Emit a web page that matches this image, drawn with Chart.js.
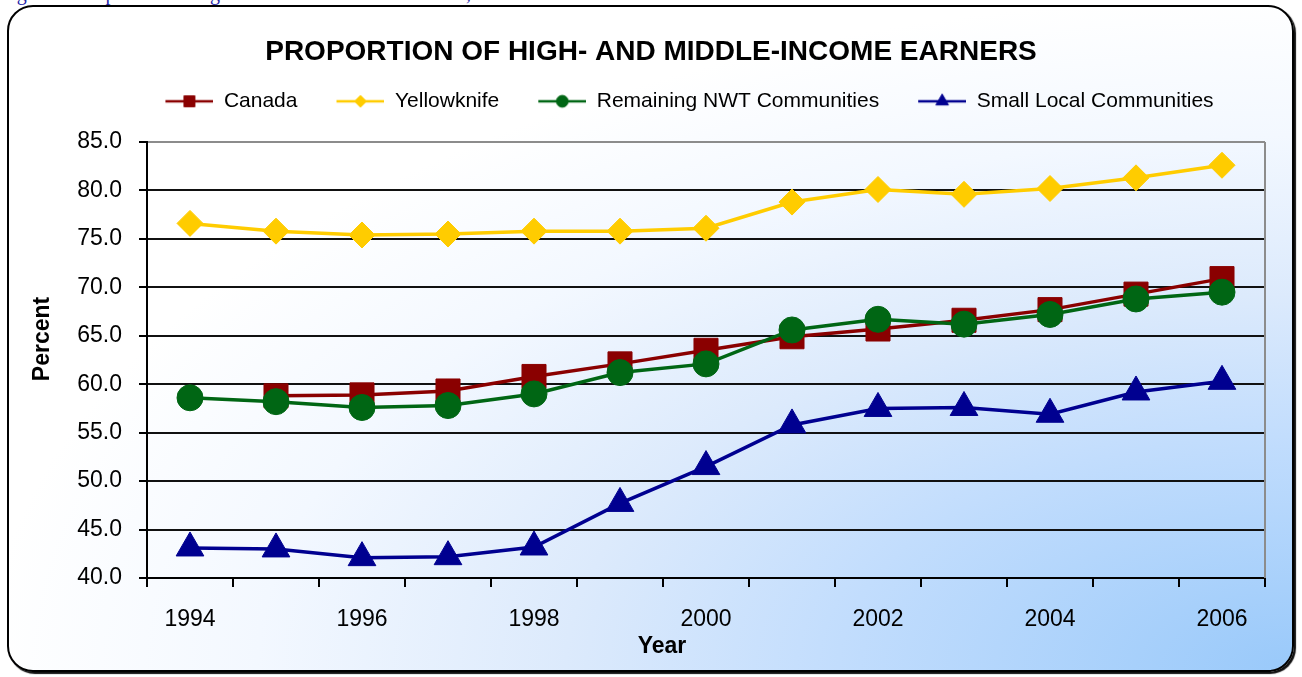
<!DOCTYPE html>
<html>
<head>
<meta charset="utf-8">
<title>Proportion of High- and Middle-Income Earners</title>
<script src="https://cdn.jsdelivr.net/npm/chart.js@4.4.1/dist/chart.umd.min.js"></script>
<style>
  html, body { margin: 0; padding: 0; background: #fff; overflow: hidden; }
  body { width: 1302px; height: 677px; position: relative; }
  .caption {
    position: absolute; left: 0; top: -17px; white-space: nowrap;
    font: 20px/20px "Liberation Serif", "Times New Roman", serif; color: #2323a8;
  }
  .frame {
    position: absolute; left: 7px; top: 5px; width: 1287px; height: 667px;
    box-sizing: border-box; border: 2px solid #000; border-radius: 26px;
    box-shadow: 2px 2px 1px #111;
    background: radial-gradient(ellipse farthest-corner at 100% 100%,
      #99c9fa 0%, #c2ddfd 25%, #dceafc 40%, #f3f8ff 57%, #ffffff 72%);
  }
  #chart { position: absolute; left: 0; top: 0; }
</style>
</head>
<body>
<div class="caption">Figure 4: Proportion of High- and Middle-Income Earners, NWT</div>
<div class="frame"></div>
<canvas id="chart" width="1302" height="677"></canvas>
<script>
const FONT = '"Liberation Sans", Arial, sans-serif';

const chartTitle = 'PROPORTION OF HIGH- AND MIDDLE-INCOME EARNERS';
const xTitle = 'Year';
const yTitle = 'Percent';

const years = ['1994', '1995', '1996', '1997', '1998', '1999', '2000',
               '2001', '2002', '2003', '2004', '2005', '2006'];

// percent of earners
const canada      = [null, 58.8, 58.9, 59.3, 60.8, 62.1, 63.5, 64.9, 65.7, 66.6, 67.7, 69.3, 70.9];
const yellowknife = [76.6, 75.8, 75.4, 75.5, 75.8, 75.8, 76.1, 78.8, 80.1, 79.6, 80.2, 81.3, 82.6];
const remainingNwt = [58.6, 58.2, 57.6, 57.8, 59.0, 61.2, 62.1, 65.6, 66.7, 66.2, 67.2, 68.8, 69.5];
const smallLocal  = [43.1, 43.0, 42.1, 42.2, 43.2, 47.7, 51.5, 55.8, 57.5, 57.6, 56.9, 59.2, 60.3];

const yMin = 40, yMax = 85, yStep = 5;

// little line + marker picture used as the legend symbol
function legendIcon(color, style, radius) {
    const c = document.createElement('canvas');
    c.width = 65; c.height = 18;
    const g = c.getContext('2d');
    g.strokeStyle = color;
    g.fillStyle = color;
    g.lineWidth = 2.5;
    g.beginPath();
    g.moveTo(17, 9);
    g.lineTo(65, 9);
    g.stroke();
    g.lineWidth = 1;
    Chart.helpers.drawPoint(g, { pointStyle: style, radius: radius, borderWidth: 1, rotation: 0 }, 41, 9);
    return c;
}

function series(label, data, color, style, radius, order) {
    return {
        label: label,
        data: data,
        borderColor: color,
        backgroundColor: color,
        pointBackgroundColor: color,
        pointBorderColor: color,
        pointStyle: style,
        pointRadius: radius,
        pointBorderWidth: 1,
        borderWidth: 3.5,
        tension: 0,
        order: order,
        icon: legendIcon(color, style, radius / 2.2)
    };
}

const datasets = [
    series('Canada', canada, '#8a0000', 'rect', 17, 4),
    series('Yellowknife', yellowknife, '#ffcc00', 'rectRot', 13, 3),
    series('Remaining NWT Communities', remainingNwt, '#006614', 'circle', 13, 2),
    series('Small Local Communities', smallLocal, '#000090', 'triangle', 16, 1)
];

// Excel puts the legend a bit right of centre
const shiftLegend = {
    id: 'shiftLegend',
    afterLayout(chart) {
        chart.legend.left += 30;
        chart.legend.right += 30;
    }
};

// grey plot-area frame on the right side
const plotFrame = {
    id: 'plotFrame',
    beforeDatasetsDraw(chart) {
        const { ctx, chartArea } = chart;
        ctx.save();
        ctx.strokeStyle = '#8c8c8c';
        ctx.lineWidth = 2;
        ctx.beginPath();
        ctx.moveTo(chartArea.right, chartArea.top);
        ctx.lineTo(chartArea.right, chartArea.bottom);
        ctx.stroke();
        ctx.restore();
    }
};

const axisTitles = {
    id: 'axisTitles',
    afterDraw(chart) {
        const ctx = chart.ctx;
        ctx.save();
        ctx.fillStyle = '#000';
        ctx.font = 'bold 23px ' + FONT;
        ctx.textAlign = 'center';
        ctx.textBaseline = 'middle';
        ctx.fillText(xTitle, 662, 647);
        ctx.translate(43, 339);
        ctx.rotate(-Math.PI / 2);
        ctx.fillText(yTitle, 0, 0);
        ctx.restore();
    }
};

const ctx = document.getElementById('chart').getContext('2d');
new Chart(ctx, {
    type: 'line',
    data: { labels: years, datasets: datasets },
    plugins: [shiftLegend, plotFrame, axisTitles],
    options: {
        responsive: false,
        animation: false,
        layout: { padding: { left: 37, right: 37, top: 0, bottom: 0 } },
        plugins: {
            tooltip: { enabled: false },
            title: {
                display: true,
                text: chartTitle,
                color: '#000',
                font: { family: FONT, size: 28, weight: 'bold' },
                padding: { top: 35, bottom: 0 }
            },
            // empty subtitle used only as a gap between legend and plot
            subtitle: {
                display: true,
                text: ' ',
                weight: 500,
                font: { family: FONT, size: 1 },
                padding: { top: 19, bottom: 0 }
            },
            legend: {
                display: true,
                position: 'top',
                labels: {
                    usePointStyle: true,
                    pointStyleWidth: 65,
                    padding: 22,
                    color: '#000',
                    font: { family: FONT, size: 21 },
                    generateLabels: (chart) => chart.data.datasets.map((ds, i) => ({
                        text: ds.label,
                        pointStyle: ds.icon,
                        fillStyle: ds.borderColor,
                        strokeStyle: ds.borderColor,
                        lineWidth: 0,
                        hidden: false,
                        fontColor: '#000',
                        datasetIndex: i
                    }))
                }
            }
        },
        scales: {
            x: {
                type: 'category',
                offset: true,
                grid: { offset: true, drawOnChartArea: false, drawTicks: true, tickLength: 9, color: '#000', lineWidth: 2 },
                border: { display: true, color: '#000', width: 2 },
                ticks: {
                    autoSkip: false,
                    maxRotation: 0,
                    padding: 19,
                    color: '#000',
                    font: { family: FONT, size: 23 },
                    callback: (v, i) => (i % 2 === 0 ? years[i] : '')
                },
                afterFit: (s) => { s.height = 99; }
            },
            y: {
                min: yMin,
                max: yMax,
                ticks: {
                    stepSize: yStep,
                    padding: 17,
                    color: '#000',
                    font: { family: FONT, size: 23 },
                    callback: (v) => Number(v).toFixed(1)
                },
                grid: {
                    color: (c) => (c.tick && c.tick.value === yMax ? '#8c8c8c' : '#111'),
                    tickColor: '#000',
                    lineWidth: 2,
                    tickLength: 8
                },
                border: { display: true, color: '#000', width: 2 },
                afterFit: (s) => { s.width = 110; s.paddingTop = 142; }
            }
        }
    }
});
</script>
</body>
</html>
